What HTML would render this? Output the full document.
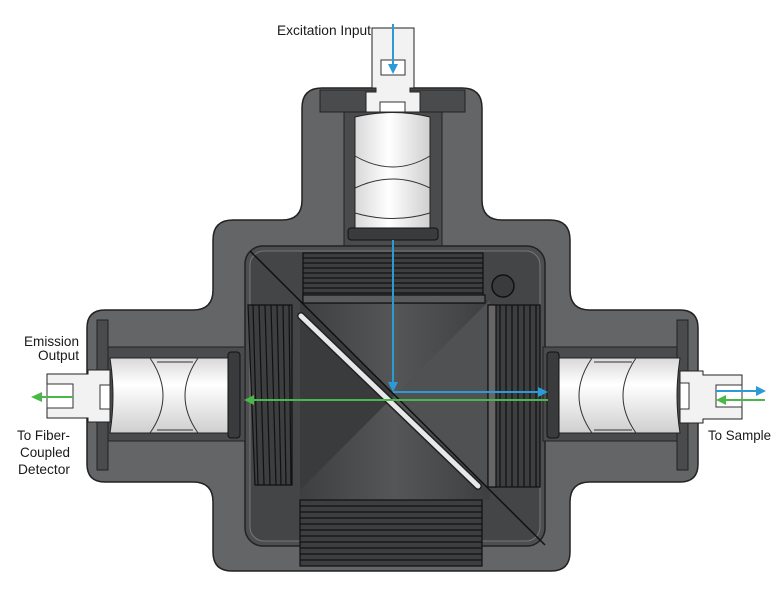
<!DOCTYPE html>
<html><head><meta charset="utf-8"><style>
html,body{margin:0;padding:0;background:#fff;width:780px;height:610px;overflow:hidden}
text{font-family:"Liberation Sans",sans-serif;font-size:14px;fill:#1a1a1a}
</style></head><body>
<svg width="780" height="610" viewBox="0 0 780 610" xmlns="http://www.w3.org/2000/svg">
<defs>
<linearGradient id="lg" x1="0" x2="0" y1="0" y2="1"><stop offset="0" stop-color="#d8d8d8"/><stop offset="0.35" stop-color="#fff"/><stop offset="1" stop-color="#cfcfcf"/></linearGradient>
<linearGradient id="lgv" x1="0" x2="1" y1="0" y2="0"><stop offset="0" stop-color="#d8d8d8"/><stop offset="0.45" stop-color="#fff"/><stop offset="1" stop-color="#cfcfcf"/></linearGradient>
<linearGradient id="dk" x1="0" x2="1"><stop offset="0" stop-color="#3e3f41"/><stop offset="0.5" stop-color="#555658"/><stop offset="1" stop-color="#3e3f41"/></linearGradient>
</defs>
<path d="M322 88 H462 Q482 88 482 108 V200 Q482 220 502 220 H550 Q570 220 570 240 V290 Q570 310 590 310 H680 Q698 310 698 328 V464 Q698 482 680 482 H590 Q570 482 570 502 V552 Q570 571 551 571 H232 Q213 571 213 552 V502 Q213 482 193 482 H105 Q87 482 87 464 V328 Q87 310 105 310 H193 Q213 310 213 290 V240 Q213 220 233 220 H282 Q302 220 302 200 V108 Q302 88 322 88 Z" fill="#646567" stroke="#222" stroke-width="1.5"/>
<rect x="320" y="90" width="145" height="22" fill="#4a4b4d" stroke="#222"/>
<rect x="344" y="112" width="98" height="134" fill="#4a4b4d" stroke="#222"/>
<rect x="245" y="246" width="300" height="300" rx="18" fill="#4d4e50" stroke="#222" stroke-width="1.5"/>
<rect x="250" y="251" width="290" height="290" rx="14" fill="#444547" stroke="#777" stroke-width="1"/>
<rect x="300" y="300" width="190" height="200" fill="url(#dk)"/>
<polygon points="300,300 395,395 300,490" fill="#3a3b3d"/>
<polygon points="490,300 395,395 490,490" fill="#505153"/>
<line x1="250" y1="251" x2="545" y2="545" stroke="#111" stroke-width="1.5"/>
<g stroke="#111" stroke-width="1.2">
<rect x="303" y="253" width="180" height="50" fill="#3d3e40"/>
<line x1="303" y1="258" x2="483" y2="258"/><line x1="303" y1="263" x2="483" y2="263"/><line x1="303" y1="268" x2="483" y2="268"/><line x1="303" y1="273" x2="483" y2="273"/><line x1="303" y1="278" x2="483" y2="278"/><line x1="303" y1="283" x2="483" y2="283"/><line x1="303" y1="288" x2="483" y2="288"/><line x1="303" y1="293" x2="483" y2="293"/>
<rect x="303" y="295" width="182" height="8" fill="#5a5b5d"/>
<rect x="300" y="500" width="182" height="66" fill="#3d3e40"/>
<line x1="300" y1="506" x2="482" y2="506"/><line x1="300" y1="512" x2="482" y2="512"/><line x1="300" y1="518" x2="482" y2="518"/><line x1="300" y1="524" x2="482" y2="524"/><line x1="300" y1="530" x2="482" y2="530"/><line x1="300" y1="536" x2="482" y2="536"/><line x1="300" y1="542" x2="482" y2="542"/><line x1="300" y1="548" x2="482" y2="548"/><line x1="300" y1="554" x2="482" y2="554"/><line x1="300" y1="560" x2="482" y2="560"/>
<polygon points="248,305 292,305 292,485 255,485" fill="#3d3e40"/>
<line x1="253" y1="305" x2="258" y2="485"/><line x1="259" y1="305" x2="264" y2="485"/><line x1="265" y1="305" x2="270" y2="485"/><line x1="271" y1="305" x2="276" y2="485"/><line x1="277" y1="305" x2="281" y2="485"/><line x1="283" y1="305" x2="286" y2="485"/><line x1="289" y1="305" x2="291" y2="485"/>
<rect x="488" y="305" width="52" height="182" fill="#3d3e40"/>
<rect x="488" y="305" width="8" height="182" fill="#666"/>
<line x1="500" y1="305" x2="500" y2="487"/><line x1="506" y1="305" x2="506" y2="487"/><line x1="512" y1="305" x2="512" y2="487"/><line x1="518" y1="305" x2="518" y2="487"/><line x1="524" y1="305" x2="524" y2="487"/><line x1="530" y1="305" x2="530" y2="487"/><line x1="536" y1="305" x2="536" y2="487"/>
</g>
<circle cx="503" cy="286" r="11" fill="#3a3b3d" stroke="#111" stroke-width="1.5"/>
<line x1="301" y1="316" x2="478" y2="486" stroke="#222" stroke-width="8" stroke-linecap="round"/>
<line x1="301" y1="316" x2="478" y2="486" stroke="#e8e8e8" stroke-width="5" stroke-linecap="round"/>
<rect x="97" y="320" width="11" height="150" fill="#4a4b4d" stroke="#222"/>
<rect x="108" y="347" width="137" height="94" fill="#4a4b4d" stroke="#222"/>
<rect x="677" y="320" width="11" height="150" fill="#4a4b4d" stroke="#222"/>
<rect x="543" y="347" width="134" height="94" fill="#4a4b4d" stroke="#222"/>
<!-- top lens -->
<path d="M355 117 Q393 108 430 117 V228 H355 Z" fill="url(#lgv)" stroke="#222"/>
<path d="M355 156 Q393 178 430 156 M355 188 Q393 170 430 188 M355 213 Q393 224 430 213" fill="none" stroke="#333"/>
<rect x="348" y="228" width="90" height="12" rx="3" fill="#3a3b3d" stroke="#111"/>
<!-- left lens -->
<path d="M110 358 H235 V433 H110 Q116 396 110 358 Z" fill="url(#lg)" stroke="#222"/>
<path d="M150 358 Q176 396 150 433 M198 358 Q172 396 198 433 M157 362 H193 M157 430 H193" fill="none" stroke="#333"/>
<rect x="228" y="352" width="12" height="86" rx="3" fill="#3a3b3d" stroke="#111"/>
<!-- right lens -->
<path d="M557 358 H680 Q674 396 680 433 H557 Z" fill="url(#lg)" stroke="#222"/>
<path d="M592 358 Q566 396 592 433 M636 358 Q610 396 636 433 M594 362 H632 M594 430 H632" fill="none" stroke="#333"/>
<rect x="547" y="352" width="12" height="86" rx="3" fill="#3a3b3d" stroke="#111"/>
<path d="M372 28 H414 V88 H410 V92 H420 V112 H366 V92 H376 V88 H372 Z" fill="#f2f2f2" stroke="#222"/>
<rect x="381" y="60" width="24" height="15" fill="#fff" stroke="#333"/>
<rect x="380" y="102" width="25" height="10" fill="#fff" stroke="#333"/>
<path d="M47 374 H88 V370 H110 V422 H88 V418 H47 Z" fill="#f2f2f2" stroke="#222"/>
<rect x="47" y="384" width="26" height="24" fill="#fff" stroke="#333"/>
<rect x="100" y="385" width="10" height="24" fill="#fff" stroke="#333"/>
<path d="M742 375 H703 V371 H680 V423 H703 V419 H742 Z" fill="#f2f2f2" stroke="#222"/>
<rect x="716" y="385" width="26" height="22" fill="#fff" stroke="#333"/>
<rect x="680" y="383" width="9" height="26" fill="#fff" stroke="#333"/>
<g stroke-width="2" fill="none">
<line x1="393" y1="24" x2="393" y2="66" stroke="#2a9bd7"/>
<line x1="393" y1="240" x2="393" y2="384" stroke="#2a9bd7"/>
<line x1="393" y1="392" x2="540" y2="392" stroke="#2a9bd7"/>
<line x1="716" y1="391" x2="758" y2="391" stroke="#2a9bd7"/>
<line x1="548" y1="400" x2="252" y2="400" stroke="#4bb748"/>
<line x1="765" y1="400" x2="724" y2="400" stroke="#4bb748"/>
<line x1="73" y1="397" x2="40" y2="397" stroke="#4bb748"/>
</g>
<polygon points="388,64 398,64 393,74" fill="#2a9bd7"/>
<polygon points="388,382 398,382 393,392" fill="#2a9bd7"/>
<polygon points="538,387 538,397 548,392" fill="#2a9bd7"/>
<polygon points="756,386 756,396 766,391" fill="#2a9bd7"/>
<polygon points="254,395 254,405 244,400" fill="#4bb748"/>
<polygon points="726,395 726,405 716,400" fill="#4bb748"/>
<polygon points="42,392 42,402 31,397" fill="#4bb748"/>
<text x="277" y="35" textLength="94" lengthAdjust="spacingAndGlyphs">Excitation Input</text>
<text x="24" y="346" textLength="55" lengthAdjust="spacingAndGlyphs">Emission</text>
<text x="38" y="360" textLength="41" lengthAdjust="spacingAndGlyphs">Output</text>
<text x="17" y="440" textLength="53" lengthAdjust="spacingAndGlyphs">To Fiber-</text>
<text x="20" y="457" textLength="50" lengthAdjust="spacingAndGlyphs">Coupled</text>
<text x="18" y="474" textLength="52" lengthAdjust="spacingAndGlyphs">Detector</text>
<text x="708" y="440" textLength="63" lengthAdjust="spacingAndGlyphs">To Sample</text>
</svg>
</body></html>
